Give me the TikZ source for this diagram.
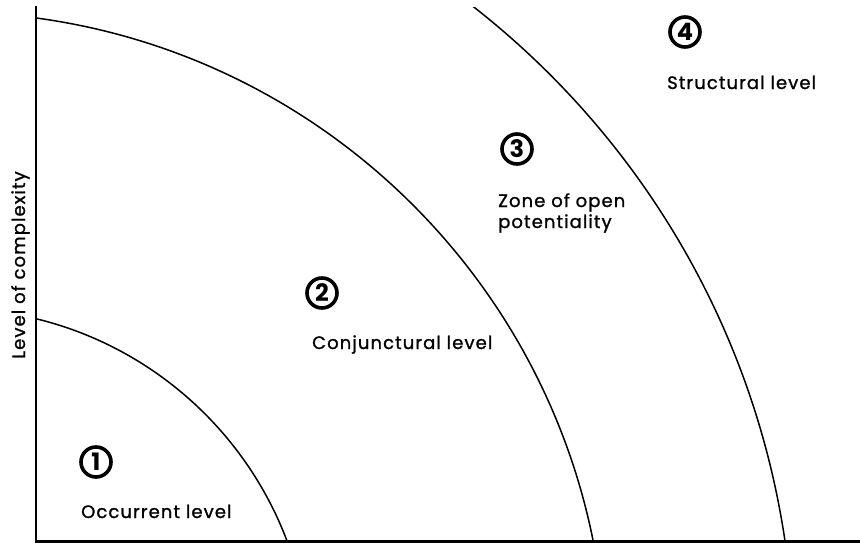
\documentclass[tikz,border=0pt]{standalone}
\usepackage{fontspec}
\setmainfont{Poppins}
\newfontfamily\lblfont[LetterSpace=6,FakeBold=1.2]{Poppins}
\begin{document}
\begin{tikzpicture}[x=1pt,y=-1pt,
  lbl/.style={anchor=base west,inner sep=0pt,font=\lblfont\fontsize{18}{18}\selectfont},
  num/.style={circle,draw,line width=3.6pt,minimum size=30pt,inner sep=0pt,
    font=\fontsize{24}{24}\selectfont\bfseries},
  arcline/.style={line width=1.5pt}]
\useasboundingbox (0,0) rectangle (860,543);
% axes
\coordinate (top) at (36,6);
\coordinate (orig) at (36,541.5);
\coordinate (right) at (860,541.5);
\draw[line width=2.6pt] (top) -- (orig);
\draw[line width=3pt] (35,541.5) -- (right);
% arcs
\begin{scope}
\clip (36,8) rectangle (860,541);
\draw[arcline] (-49,667.6) circle[radius=359];
\draw[arcline] (-53,671) circle[radius=659];
\draw[arcline] (-40,664) circle[radius=834];
\end{scope}
% circled numbers
\node[num] (n1) at (96,462) {1};
\node[num] (n2) at (322,293) {2};
\node[num] (n3) at (517,149) {3};
\node[num] (n4) at (685,32) {4};
% labels
\node[lbl] (l1) at (81,518) {Occurrent level};
\node[lbl] (l2) at (312,349) {Conjunctural level};
\node[lbl] (l3a) at (498,207) {Zone of open};
\node[lbl] (l3b) at (498,228) {potentiality};
\node[lbl] (l4) at (667,89) {Structural level};
\node[anchor=base,inner sep=0pt,rotate=90,font=\lblfont\fontsize{18}{18}\selectfont] (ax) at (25,265) {Level of complexity};
\end{tikzpicture}
\end{document}
